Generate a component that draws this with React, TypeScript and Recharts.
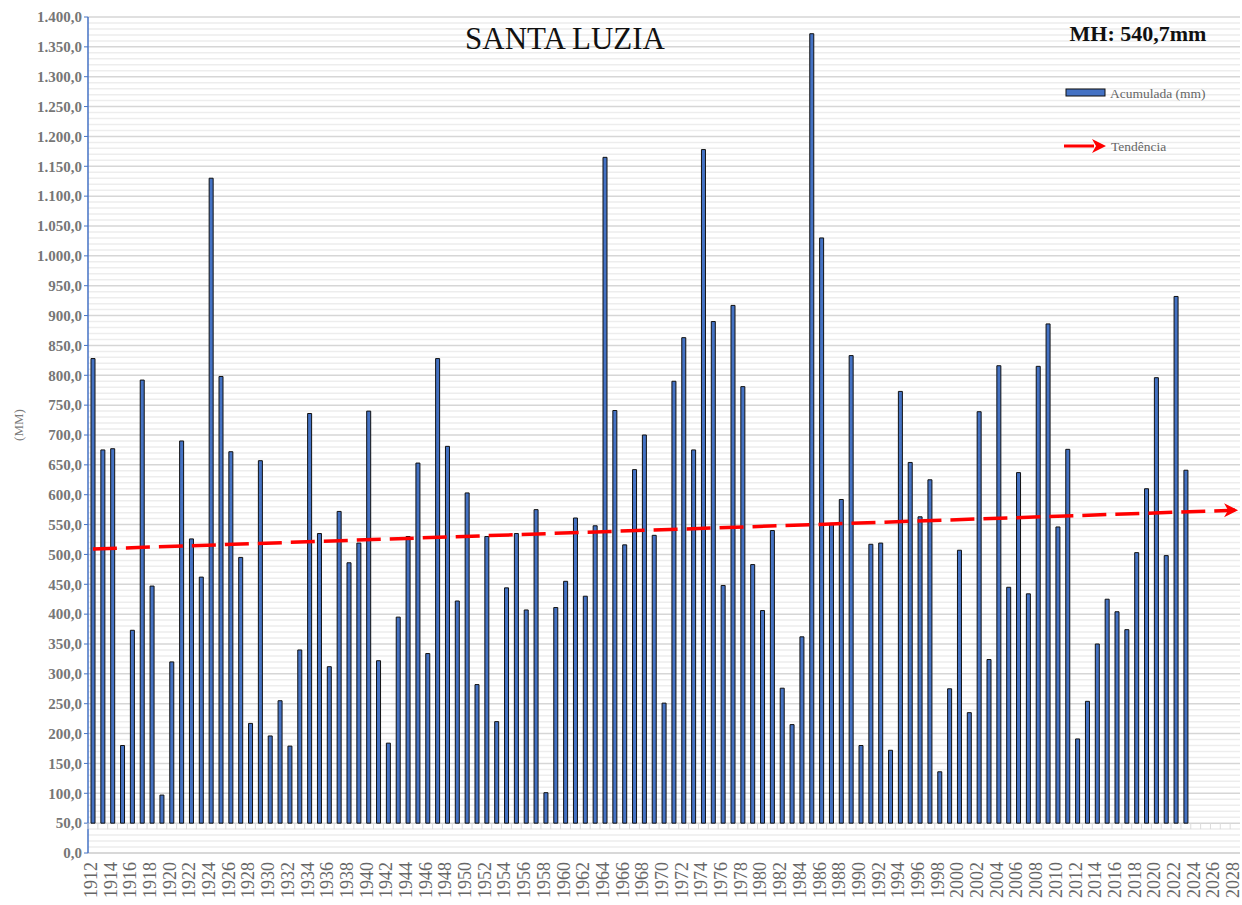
import React from 'react'
import { ComposedChart, Bar, Line, XAxis, YAxis, CartesianGrid } from 'recharts'

// anos do eixo x (1912..2028), chuva acumulada anual (mm) de 1912 a 2023
const years: number[] = Array.from({ length: 117 }, (_, i) => 1912 + i)

const rainfall: number[] = [
  828, 675, 677, 180, 373, 792, 447, 97, 320, 690,
  526, 462, 1130, 798, 672, 495, 217, 657, 196, 255,
  179, 340, 736, 535, 312, 572, 486, 519, 740, 322,
  184, 395, 530, 653, 334, 828, 681, 422, 603, 282,
  530, 220, 444, 535, 407, 575, 101, 411, 455, 561,
  430, 548, 1165, 741, 516, 642, 700, 532, 251, 790,
  863, 675, 1178, 890, 448, 917, 781, 483, 406, 540,
  276, 215, 362, 1372, 1030, 552, 592, 833, 180, 517,
  519, 172, 773, 654, 563, 625, 136, 275, 507, 235,
  739, 324, 816, 445, 637, 434, 815, 886, 546, 676,
  191, 254, 350, 425, 404, 374, 503, 610, 796, 498,
  932, 641,
]

// linha de tendência: valores nas pontas (1912 e 2028)
const trendStart = 509
const trendEnd = 574

const baseLine = 50
const majorTicks: number[] = Array.from({ length: 29 }, (_, i) => i * 50)
const minorTicks: number[] = Array.from({ length: 141 }, (_, i) => i * 10)

const data = years.map((year, i) => ({
  year,
  range: rainfall[i] != null ? [baseLine, rainfall[i]] : null,
  trend: i === 0 ? trendStart : i === years.length - 1 ? trendEnd : null,
}))

const W = 1242
const H = 905
const TOP = 17
const LEFT = 88
const RIGHT = 2
const BOTTOM_AXIS = 52
const plotW = W - LEFT - RIGHT
const plotH = H - TOP - BOTTOM_AXIS
const band = plotW / years.length
const yPx = (v: number) => TOP + plotH * (1 - v / 1400)
const y50 = yPx(baseLine)
const minorLines = minorTicks.filter((v) => v % 50 !== 0).map(yPx)

const serif = '"Liberation Serif", "DejaVu Serif", serif'

const fmt = (v: number) => {
  const s = Math.round(v).toString()
  const withDots = s.replace(/\B(?=(\d{3})+(?!\d))/g, '.')
  return `${withDots},0`
}

const XTick = (props: any) => {
  const { x, payload } = props
  const yr = payload.value as number
  return (
    <g>
      <line x1={x - band / 2} x2={x - band / 2} y1={y50} y2={y50 + 6} stroke="#dcdcdc" />
      {yr % 2 === 0 && (
        <text
          transform={`translate(${x + 4},${TOP + plotH + 9}) rotate(-90)`}
          textAnchor="end"
          fontFamily={serif}
          fontSize={18}
          fill="#666"
        >
          {yr}
        </text>
      )}
    </g>
  )
}

const ArrowDot = (props: any) => {
  const { cx, cy, index } = props
  if (index !== years.length - 1 || cx == null) return <g key={`d${index}`} />
  return (
    <path
      key={`d${index}`}
      d={`M${cx + 3},${cy} L${cx - 11},${cy - 7} L${cx - 7},${cy} L${cx - 11},${cy + 7} Z`}
      fill="#ff0000"
    />
  )
}

export default function App() {
  return (
    <div style={{ position: 'relative', width: W, height: H, background: '#fff' }}>
      <style>{`body{margin:0}`}</style>
      <ComposedChart
        width={W}
        height={H}
        data={data}
        margin={{ top: TOP, right: RIGHT, left: 0, bottom: 0 }}
        barCategoryGap={0}
      >
        <CartesianGrid vertical={false} horizontalPoints={minorLines} stroke="#ededed" strokeWidth={1.5} />
        <CartesianGrid vertical={false} stroke="#d6d6d6" strokeWidth={1.5} />
        <XAxis
          dataKey="year"
          interval={0}
          height={BOTTOM_AXIS}
          tick={<XTick />}
          tickLine={false}
          axisLine={{ stroke: '#d6d6d6', strokeWidth: 1.5 }}
        />
        <YAxis
          width={LEFT}
          domain={[0, 1400]}
          ticks={majorTicks}
          interval={0}
          tickFormatter={fmt}
          tickSize={4}
          tickLine={{ stroke: '#4472C4' }}
          axisLine={{ stroke: '#4472C4', strokeWidth: 1.5 }}
          tick={{ fontFamily: serif, fontWeight: 'bold', fontSize: 15, fill: '#767676' }}
        />
        <Bar
          dataKey="range"
          fill="#4472C4"
          stroke="#111"
          strokeWidth={1}
          barSize={4}
          isAnimationActive={false}
        />
        <Line
          dataKey="trend"
          connectNulls
          stroke="#ff0000"
          strokeWidth={3.5}
          strokeDasharray="24 9"
          dot={<ArrowDot />}
          activeDot={false}
          isAnimationActive={false}
        />
      </ComposedChart>

      <svg
        width={W}
        height={H}
        style={{ position: 'absolute', left: 0, top: 0, pointerEvents: 'none' }}
      >
        <text x={565} y={49} textAnchor="middle" fontFamily={serif} fontSize={31} fill="#111">
          SANTA LUZIA
        </text>
        <text x={1138} y={41} textAnchor="middle" fontFamily={serif} fontSize={22} fontWeight="bold" fill="#111">
          MH: 540,7mm
        </text>
        <text
          transform="translate(23,425) rotate(-90)"
          textAnchor="middle"
          fontFamily={serif}
          fontSize={13}
          fill="#7a7a7a"
        >
          (MM)
        </text>
        <rect x={1066} y={89} width={39} height={7} fill="#4472C4" stroke="#111" strokeWidth={1} />
        <text x={1110} y={98} fontFamily={serif} fontSize={13.5} fill="#666">
          Acumulada (mm)
        </text>
        <line x1={1064} x2={1094} y1={146} y2={146} stroke="#ff0000" strokeWidth={3} />
        <path d="M1106,146 L1092,139 L1096,146 L1092,153 Z" fill="#ff0000" />
        <text x={1111} y={151} fontFamily={serif} fontSize={13.5} fill="#666">
          Tendência
        </text>
      </svg>
    </div>
  )
}
